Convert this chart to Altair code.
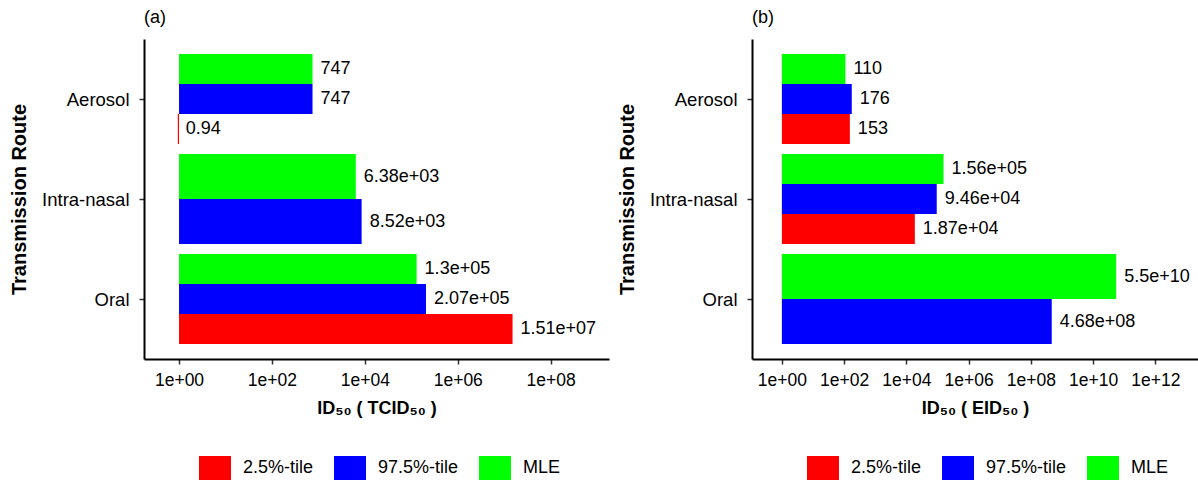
import altair as alt
import pandas as pd

# ---- data ----
routes = ["Aerosol", "Intra-nasal", "Oral"]
series = ["2.5%-tile", "97.5%-tile", "MLE"]
colors = ["#FF0000", "#0000FF", "#00FF00"]

# panel (a): ID50 (TCID50)
a_lower = [0.94, None, 1.51e7]
a_upper = [747, 8.52e3, 2.07e5]
a_mle = [747, 6.38e3, 1.3e5]

# panel (b): ID50 (EID50)
b_lower = [153, 1.87e4, None]
b_upper = [176, 9.46e4, 4.68e8]
b_mle = [110, 1.56e5, 5.5e10]

route_pos = {"Aerosol": 3, "Intra-nasal": 2, "Oral": 1}


def build(lower, upper, mle):
    rows = []
    for k, r in enumerate(routes):
        # top-to-bottom order inside a group: MLE, 97.5%, 2.5%
        present = [(s, v) for s, v in (("MLE", mle[k]), ("97.5%-tile", upper[k]), ("2.5%-tile", lower[k])) if v is not None]
        n = len(present)
        w = 0.9 / n
        for i, (s, v) in enumerate(present):
            top = route_pos[r] + 0.45 - i * w
            rows.append({
                "route": r, "series": s, "value": v, "base": 1.0,
                "y_top": top, "y_bot": top - w, "y_mid": top - w / 2,
                "label": "%.3g" % v,
            })
    return pd.DataFrame(rows)


font = "Liberation Sans"
x_label_expr = "'1e+' + (round(log(datum.value)/LN10) < 10 ? '0' : '') + round(log(datum.value)/LN10)"
y_label_expr = " : ".join(
    ["datum.value == %d ? '%s'" % (route_pos[r], r) for r in routes[:-1]]
) + " : '%s'" % routes[-1]


def panel(df, xdomain, xticks, xtitle, tag, width):
    base = alt.Chart(df)
    xenc = alt.X(
        "value:Q",
        scale=alt.Scale(type="log", domain=xdomain, nice=False, zero=False),
        axis=alt.Axis(values=xticks, labelExpr=x_label_expr, title=xtitle,
                      titleFontWeight="bold", titleFontSize=18, titlePadding=11,
                      labelPadding=7, tickSize=5, grid=False, labelFontSize=17.5),
    )
    yenc = alt.Y(
        "y_top:Q",
        scale=alt.Scale(domain=[0.4, 3.6], nice=False, zero=False),
        axis=alt.Axis(values=[1, 2, 3], labelExpr=y_label_expr, title="Transmission Route",
                      titleFontWeight="bold", titleFontSize=20, titlePadding=12,
                      labelPadding=10, tickSize=5, grid=False, labelFontSize=18.5),
    )
    bars = base.mark_bar().encode(
        x=xenc,
        x2="base:Q",
        y=yenc,
        y2="y_bot:Q",
        color=alt.Color(
            "series:N",
            scale=alt.Scale(domain=series, range=colors),
            legend=alt.Legend(
                title=None, orient="none", legendX=55, legendY=413,
                direction="horizontal",
                symbolType="M-1,-0.75H1V0.75H-1Z", symbolSize=1024,
                symbolStrokeWidth=0, symbolOpacity=1,
                labelFontSize=18, labelFont=font, labelColor="#000000",
                labelOffset=12, columnPadding=20, padding=0,
            ),
        ),
    )
    text = base.mark_text(align="left", baseline="middle", dx=8, fontSize=18,
                          font=font, color="#000000").encode(
        x="value:Q", y="y_mid:Q", text="label:N"
    )
    return (bars + text).properties(
        width=width, height=320,
        title=alt.Title(tag, anchor="start", frame="group", fontSize=18,
                        fontWeight="normal", font=font, offset=12, color="#000000"),
    )


pa = panel(build(a_lower, a_upper, a_mle), [10 ** -0.754, 10 ** 9.255],
           [1, 1e2, 1e4, 1e6, 1e8], "ID₅₀ ( TCID₅₀ )", "(a)", 465)
pb = panel(build(b_lower, b_upper, b_mle), [10 ** -0.96, 10 ** 13.37],
           [1, 1e2, 1e4, 1e6, 1e8, 1e10, 1e12], "ID₅₀ ( EID₅₀ )", "(b)", 446)

chart = (
    alt.hconcat(pa, pb, spacing=8)
    .resolve_scale(color="independent")
    .resolve_legend(color="independent")
    .properties(padding={"left": 9, "top": 9, "right": 0, "bottom": 0},
                background="white")
    .configure_view(strokeWidth=0)
    .configure_axis(
        grid=False, domainColor="#000000", domainWidth=2,
        tickColor="#333333", tickWidth=1.5,
        labelFont=font, labelColor="#000000",
        titleFont=font, titleColor="#000000",
    )
)

chart.save("out.html", embed_options={"renderer": "svg", "actions": False})
